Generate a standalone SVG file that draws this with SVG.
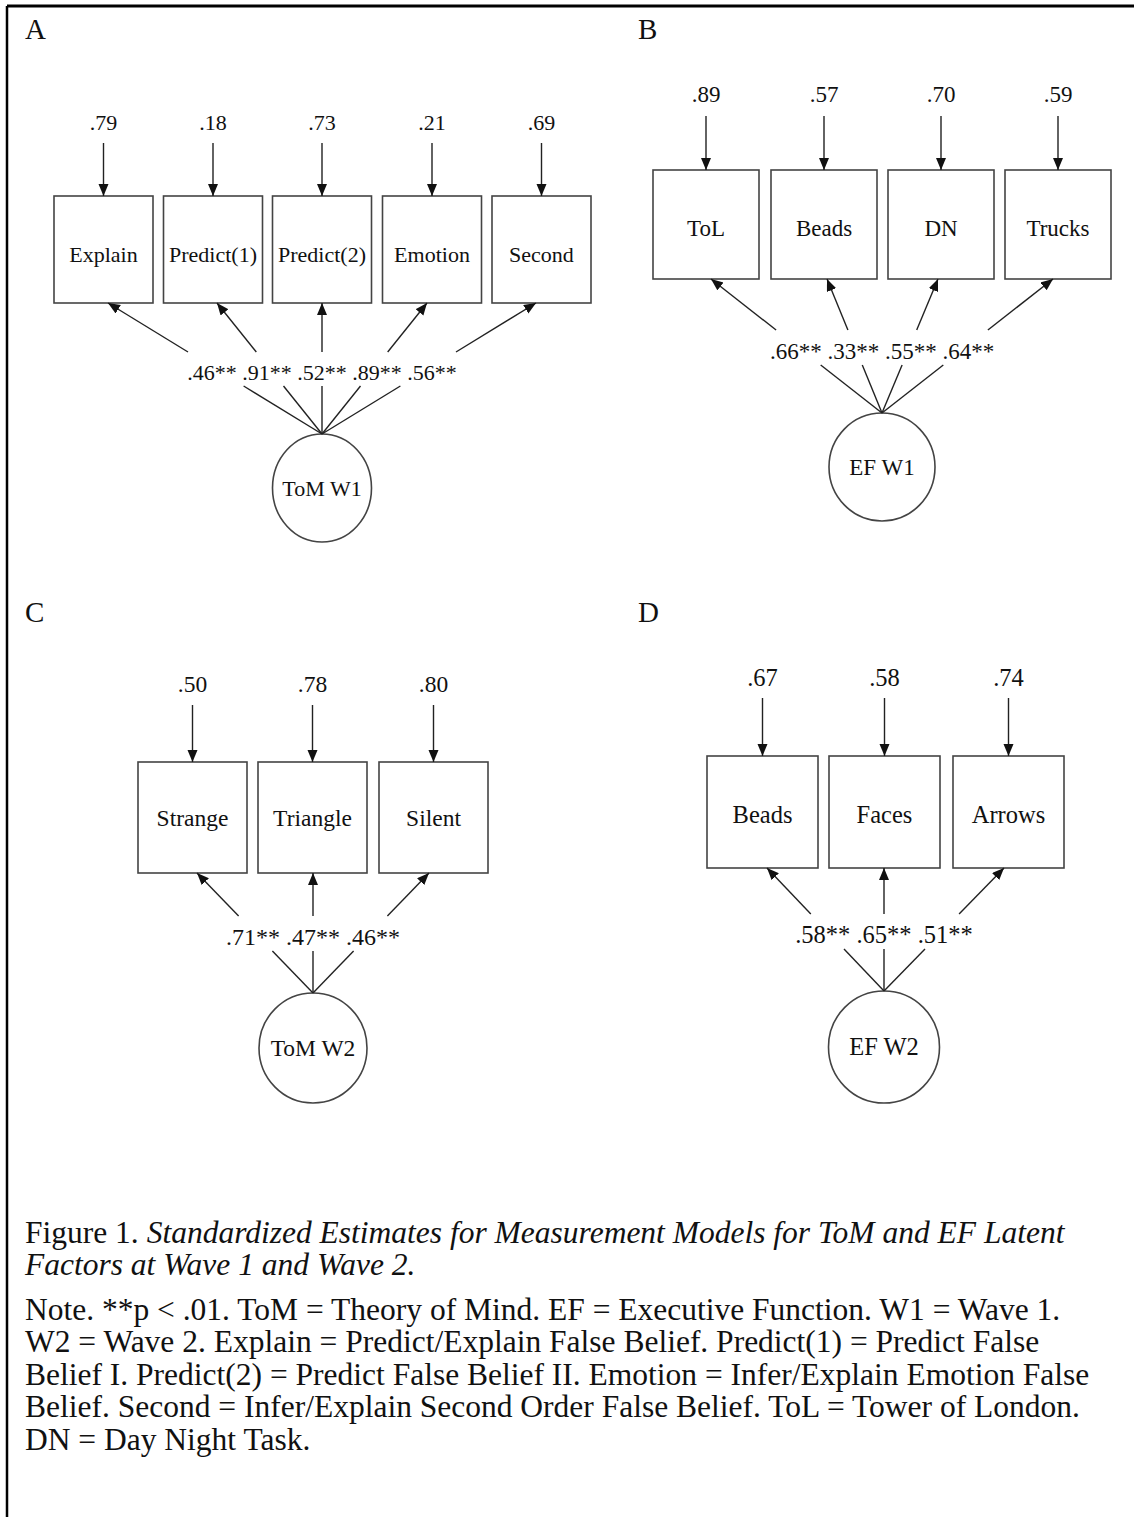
<svg xmlns="http://www.w3.org/2000/svg" width="1134" height="1517" viewBox="0 0 1134 1517">
<defs>
<marker id="ah" markerUnits="userSpaceOnUse" markerWidth="13" markerHeight="11" refX="12" refY="5" orient="auto">
<path d="M0,0 L12,5 L0,10 z" fill="#111"/>
</marker>
<style>
.t{font-family:"Liberation Serif","Times New Roman",serif;fill:#111;text-anchor:middle}
.box{fill:#fff;stroke:#444;stroke-width:1.6}
.lat{fill:#fff;stroke:#444;stroke-width:1.6}
.ln{stroke:#222;stroke-width:1.4;fill:none}
.ar{stroke:#222;stroke-width:1.4;fill:none;marker-end:url(#ah)}
.pl{font-family:"Liberation Serif","Times New Roman",serif;fill:#111;font-size:29px}
.cap{font-family:"Liberation Serif","Times New Roman",serif;fill:#111;font-size:31.5px}
</style>
</defs>
<rect width="1134" height="1517" fill="#fff"/>
<g id="frame">
<line x1="7" y1="6" x2="1134" y2="6" stroke="#000" stroke-width="3"/>
<line x1="7" y1="6" x2="7" y2="1517" stroke="#000" stroke-width="2.5"/>
</g>

<g id="panel-labels">
<text class="pl" x="25" y="39">A</text>
<text class="pl" x="638" y="39">B</text>
<text class="pl" x="25" y="622">C</text>
<text class="pl" x="638" y="622">D</text>
</g>

<!-- Panel A -->
<g id="A-Explain"><rect class="box" x="54" y="196" width="99" height="107"/><text class="t" x="103.5" y="262" font-size="22">Explain</text></g>
<g id="A-Predict1"><rect class="box" x="163.5" y="196" width="99" height="107"/><text class="t" x="213" y="262" font-size="22">Predict(1)</text></g>
<g id="A-Predict2"><rect class="box" x="272.5" y="196" width="99" height="107"/><text class="t" x="322" y="262" font-size="22">Predict(2)</text></g>
<g id="A-Emotion"><rect class="box" x="382.5" y="196" width="99" height="107"/><text class="t" x="432" y="262" font-size="22">Emotion</text></g>
<g id="A-Second"><rect class="box" x="492" y="196" width="99" height="107"/><text class="t" x="541.5" y="262" font-size="22">Second</text></g>
<g id="A-ToMW1"><ellipse class="lat" cx="322" cy="488" rx="49.5" ry="54"/><text class="t" x="322" y="496" font-size="22">ToM W1</text></g>

<!-- Panel B -->
<g id="B-ToL"><rect class="box" x="653" y="170" width="106" height="109"/><text class="t" x="706" y="236" font-size="23">ToL</text></g>
<g id="B-Beads"><rect class="box" x="771" y="170" width="106" height="109"/><text class="t" x="824" y="236" font-size="23">Beads</text></g>
<g id="B-DN"><rect class="box" x="888" y="170" width="106" height="109"/><text class="t" x="941" y="236" font-size="23">DN</text></g>
<g id="B-Trucks"><rect class="box" x="1005" y="170" width="106" height="109"/><text class="t" x="1058" y="236" font-size="23">Trucks</text></g>
<g id="B-EFW1"><ellipse class="lat" cx="882" cy="467" rx="53" ry="54"/><text class="t" x="882" y="475" font-size="23">EF W1</text></g>

<!-- Panel C -->
<g id="C-Strange"><rect class="box" x="138" y="762" width="109" height="111"/><text class="t" x="192.5" y="826" font-size="23.5">Strange</text></g>
<g id="C-Triangle"><rect class="box" x="258" y="762" width="109" height="111"/><text class="t" x="312.5" y="826" font-size="23.5">Triangle</text></g>
<g id="C-Silent"><rect class="box" x="379" y="762" width="109" height="111"/><text class="t" x="433.5" y="826" font-size="23.5">Silent</text></g>
<g id="C-ToMW2"><ellipse class="lat" cx="313" cy="1048" rx="54" ry="55"/><text class="t" x="313" y="1056" font-size="23.5">ToM W2</text></g>

<!-- Panel D -->
<g id="D-Beads"><rect class="box" x="707" y="756" width="111" height="112"/><text class="t" x="762.5" y="823" font-size="24.5">Beads</text></g>
<g id="D-Faces"><rect class="box" x="829" y="756" width="111" height="112"/><text class="t" x="884.5" y="823" font-size="24.5">Faces</text></g>
<g id="D-Arrows"><rect class="box" x="953" y="756" width="111" height="112"/><text class="t" x="1008.5" y="823" font-size="24.5">Arrows</text></g>
<g id="D-EFW2"><ellipse class="lat" cx="884" cy="1047" rx="55.5" ry="56"/><text class="t" x="884" y="1055" font-size="24.5">EF W2</text></g>

<g id="connectors">
<!-- A residuals -->
<line class="ar" x1="103.5" y1="143" x2="103.5" y2="196"/>
<line class="ar" x1="213" y1="143" x2="213" y2="196"/>
<line class="ar" x1="322" y1="143" x2="322" y2="196"/>
<line class="ar" x1="432" y1="143" x2="432" y2="196"/>
<line class="ar" x1="541.5" y1="143" x2="541.5" y2="196"/>
<!-- A loadings -->
<line class="ln" x1="322" y1="434" x2="243.6" y2="386"/><line class="ar" x1="188" y1="352" x2="108" y2="303"/>
<line class="ln" x1="322" y1="434" x2="283.5" y2="386"/><line class="ar" x1="256.3" y1="352" x2="217" y2="303"/>
<line class="ln" x1="322" y1="434" x2="322" y2="386"/><line class="ar" x1="322" y1="352" x2="322" y2="303"/>
<line class="ln" x1="322" y1="434" x2="360.5" y2="386"/><line class="ar" x1="387.7" y1="352" x2="427" y2="303"/>
<line class="ln" x1="322" y1="434" x2="400.4" y2="386"/><line class="ar" x1="456" y1="352" x2="536" y2="303"/>
<!-- B residuals -->
<line class="ar" x1="706" y1="116" x2="706" y2="170"/>
<line class="ar" x1="824" y1="116" x2="824" y2="170"/>
<line class="ar" x1="941" y1="116" x2="941" y2="170"/>
<line class="ar" x1="1058" y1="116" x2="1058" y2="170"/>
<!-- B loadings -->
<line class="ln" x1="882" y1="413" x2="820.7" y2="365"/><line class="ar" x1="776.1" y1="330" x2="711" y2="279"/>
<line class="ln" x1="882" y1="413" x2="862.3" y2="365"/><line class="ar" x1="847.9" y1="330" x2="827" y2="279"/>
<line class="ln" x1="882" y1="413" x2="902.1" y2="365"/><line class="ar" x1="916.7" y1="330" x2="938" y2="279"/>
<line class="ln" x1="882" y1="413" x2="943.3" y2="365"/><line class="ar" x1="987.9" y1="330" x2="1053" y2="279"/>
<!-- C residuals -->
<line class="ar" x1="192.5" y1="705" x2="192.5" y2="762"/>
<line class="ar" x1="312.5" y1="705" x2="312.5" y2="762"/>
<line class="ar" x1="433.5" y1="705" x2="433.5" y2="762"/>
<!-- C loadings -->
<line class="ln" x1="313" y1="993" x2="272.4" y2="951"/><line class="ar" x1="238.6" y1="916" x2="197" y2="873"/>
<line class="ln" x1="313" y1="993" x2="313" y2="951"/><line class="ar" x1="313" y1="916" x2="313" y2="873"/>
<line class="ln" x1="313" y1="993" x2="353.6" y2="951"/><line class="ar" x1="387.4" y1="916" x2="429" y2="873"/>
<!-- D residuals -->
<line class="ar" x1="762.5" y1="698" x2="762.5" y2="756"/>
<line class="ar" x1="884.5" y1="698" x2="884.5" y2="756"/>
<line class="ar" x1="1008.5" y1="698" x2="1008.5" y2="756"/>
<!-- D loadings -->
<line class="ln" x1="884" y1="991" x2="844" y2="949"/><line class="ar" x1="810.8" y1="914" x2="767" y2="868"/>
<line class="ln" x1="884" y1="991" x2="884" y2="949"/><line class="ar" x1="884" y1="914" x2="884" y2="868"/>
<line class="ln" x1="884" y1="991" x2="925" y2="949"/><line class="ar" x1="959.1" y1="914" x2="1004" y2="868"/>
</g>

<g id="connector-labels">
<text class="t" x="103.5" y="130" font-size="22">.79</text>
<text class="t" x="213" y="130" font-size="22">.18</text>
<text class="t" x="322" y="130" font-size="22">.73</text>
<text class="t" x="432" y="130" font-size="22">.21</text>
<text class="t" x="541.5" y="130" font-size="22">.69</text>
<text class="t" x="212" y="380" font-size="22">.46**</text>
<text class="t" x="267" y="380" font-size="22">.91**</text>
<text class="t" x="322" y="380" font-size="22">.52**</text>
<text class="t" x="377" y="380" font-size="22">.89**</text>
<text class="t" x="432" y="380" font-size="22">.56**</text>

<text class="t" x="706" y="102" font-size="23">.89</text>
<text class="t" x="824" y="102" font-size="23">.57</text>
<text class="t" x="941" y="102" font-size="23">.70</text>
<text class="t" x="1058" y="102" font-size="23">.59</text>
<text class="t" x="795.8" y="359" font-size="23">.66**</text>
<text class="t" x="853.3" y="359" font-size="23">.33**</text>
<text class="t" x="910.8" y="359" font-size="23">.55**</text>
<text class="t" x="968.3" y="359" font-size="23">.64**</text>

<text class="t" x="192.5" y="692" font-size="23.5">.50</text>
<text class="t" x="312.5" y="692" font-size="23.5">.78</text>
<text class="t" x="433.5" y="692" font-size="23.5">.80</text>
<text class="t" x="253" y="945" font-size="24">.71**</text>
<text class="t" x="313" y="945" font-size="24">.47**</text>
<text class="t" x="373" y="945" font-size="24">.46**</text>

<text class="t" x="762.5" y="686" font-size="24.5">.67</text>
<text class="t" x="884.5" y="686" font-size="24.5">.58</text>
<text class="t" x="1008.5" y="686" font-size="24.5">.74</text>
<text class="t" x="822.8" y="943" font-size="24.5">.58**</text>
<text class="t" x="884" y="943" font-size="24.5">.65**</text>
<text class="t" x="945.2" y="943" font-size="24.5">.51**</text>
</g>

<g id="caption">
<text class="cap" x="25" y="1243">Figure 1. <tspan font-style="italic">Standardized Estimates for Measurement Models for ToM and EF Latent</tspan></text>
<text class="cap" x="25" y="1275" font-style="italic">Factors at Wave 1 and Wave 2.</text>
<text class="cap" x="25" y="1320">Note. **p &lt; .01. ToM = Theory of Mind. EF = Executive Function. W1 = Wave 1.</text>
<text class="cap" x="25" y="1352">W2 = Wave 2. Explain = Predict/Explain False Belief. Predict(1) = Predict False</text>
<text class="cap" x="25" y="1385">Belief I. Predict(2) = Predict False Belief II. Emotion = Infer/Explain Emotion False</text>
<text class="cap" x="25" y="1417">Belief. Second = Infer/Explain Second Order False Belief. ToL = Tower of London.</text>
<text class="cap" x="25" y="1450">DN = Day Night Task.</text>
</g>
</svg>
